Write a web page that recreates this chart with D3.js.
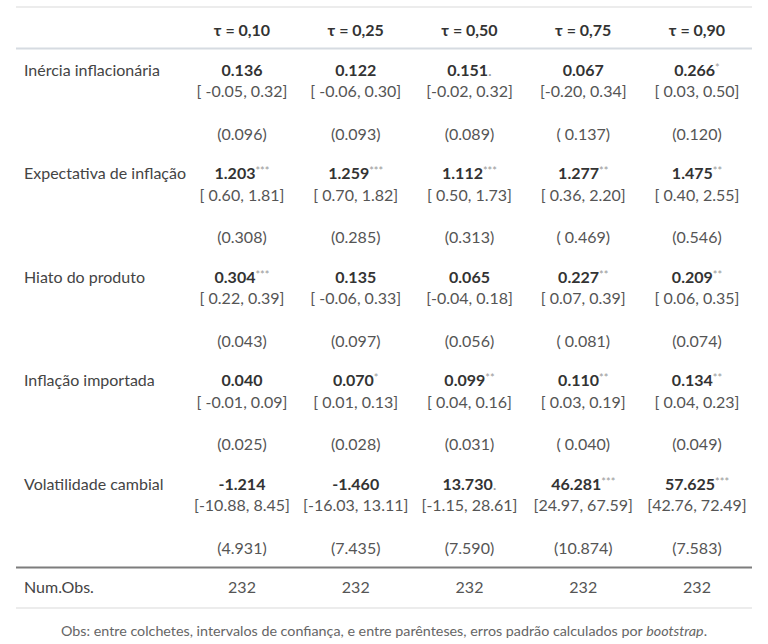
<!DOCTYPE html>
<html>
<head>
<meta charset="utf-8">
<script src="https://cdn.jsdelivr.net/npm/d3@7"></script>
<style>
  body { margin: 0; background: #fff; }
  svg { font-family: Lato, "Open Sans", sans-serif; }
</style>
</head>
<body>
<svg width="768" height="644"></svg>
<script>
// tau columns
var taus = ["τ = 0,10", "τ = 0,25", "τ = 0,50", "τ = 0,75", "τ = 0,90"];
var variables = ["Inércia inflacionária", "Expectativa de inflação", "Hiato do produto",
                 "Inflação importada", "Volatilidade cambial"];

// coefficients (one list per variable, one value per tau)
var coefs = [
    ["0.136", "0.122", "0.151", "0.067", "0.266"],
    ["1.203", "1.259", "1.112", "1.277", "1.475"],
    ["0.304", "0.135", "0.065", "0.227", "0.209"],
    ["0.040", "0.070", "0.099", "0.110", "0.134"],
    ["-1.214", "-1.460", "13.730", "46.281", "57.625"]
];
var stars = [
    ["", "", ".", "", "*"],
    ["***", "***", "***", "**", "**"],
    ["***", "", "", "**", "**"],
    ["", "*", "**", "**", "**"],
    ["", "", ".", "***", "***"]
];
var intervals = [
    ["[ -0.05, 0.32]", "[ -0.06, 0.30]", "[-0.02, 0.32]", "[-0.20, 0.34]", "[ 0.03, 0.50]"],
    ["[ 0.60, 1.81]", "[ 0.70, 1.82]", "[ 0.50, 1.73]", "[ 0.36, 2.20]", "[ 0.40, 2.55]"],
    ["[ 0.22, 0.39]", "[ -0.06, 0.33]", "[-0.04, 0.18]", "[ 0.07, 0.39]", "[ 0.06, 0.35]"],
    ["[ -0.01, 0.09]", "[ 0.01, 0.13]", "[ 0.04, 0.16]", "[ 0.03, 0.19]", "[ 0.04, 0.23]"],
    ["[-10.88, 8.45]", "[-16.03, 13.11]", "[-1.15, 28.61]", "[24.97, 67.59]", "[42.76, 72.49]"]
];
var std_errors = [
    ["(0.096)", "(0.093)", "(0.089)", "( 0.137)", "(0.120)"],
    ["(0.308)", "(0.285)", "(0.313)", "( 0.469)", "(0.546)"],
    ["(0.043)", "(0.097)", "(0.056)", "( 0.081)", "(0.074)"],
    ["(0.025)", "(0.028)", "(0.031)", "( 0.040)", "(0.049)"],
    ["(4.931)", "(7.435)", "(7.590)", "(10.874)", "(7.583)"]
];
var num_obs = [232, 232, 232, 232, 232];

var svg = d3.select("svg");
var left = 16, right = 752, label_x = 24;
var fs = "16px";

var xs = d3.scalePoint().domain(taus).range([242, 697]);
// y of the coefficient line of each variable
var ys = d3.scaleLinear().domain([0, variables.length - 1]).range([70, 484]);

function hline(y, color, w) {
    svg.append("line")
        .attr("x1", left).attr("x2", right)
        .attr("y1", y).attr("y2", y)
        .style("stroke", color)
        .style("stroke-width", w);
}

hline(7, "#e6e6e6", 1.5);
hline(48.5, "#d6dbe1", 2);
hline(567.5, "#7d7d7d", 2);
hline(608, "#e6e6e6", 1.5);

// header
svg.append("g").selectAll("text")
    .data(taus).enter()
    .append("text")
        .attr("x", function(d) { return xs(d); })
        .attr("y", 30)
        .attr("dy", "0.35em")
        .style("text-anchor", "middle")
        .style("font-weight", "bold")
        .style("font-size", fs)
        .style("fill", "#333")
        .text(function(d) { return d; });

// variable labels
svg.append("g").selectAll("text")
    .data(variables).enter()
    .append("text")
        .attr("x", label_x)
        .attr("y", function(d, i) { return ys(i); })
        .attr("dy", "0.35em")
        .style("font-size", fs)
        .style("fill", "#444")
        .text(function(d) { return d; });

var rows = svg.append("g").selectAll("g")
    .data(variables).enter()
    .append("g");

rows.each(function(v, i) {
    var g = d3.select(this);
    var y = ys(i);

    var coef = g.selectAll("text.coef")
        .data(taus).enter()
        .append("text")
            .attr("class", "coef")
            .attr("x", function(d) { return xs(d); })
            .attr("y", y)
            .attr("dy", "0.35em")
            .style("text-anchor", "middle")
            .style("font-size", fs)
            .style("fill", "#333");
    coef.append("tspan")
        .style("font-weight", "bold")
        .text(function(d, j) { return coefs[i][j]; });
    coef.append("tspan")
        .style("font-size", function(d, j) { return stars[i][j] == "." ? fs : "11px"; })
        .attr("baseline-shift", function(d, j) { return stars[i][j] == "." ? null : "4px"; })
        .style("fill", "#999")
        .text(function(d, j) { return stars[i][j]; });

    g.selectAll("text.ci")
        .data(taus).enter()
        .append("text")
            .attr("class", "ci")
            .attr("x", function(d) { return xs(d); })
            .attr("y", y + 21.5)
            .attr("dy", "0.35em")
            .style("text-anchor", "middle")
            .style("font-size", fs)
            .style("fill", "#555")
            .text(function(d, j) { return intervals[i][j]; });

    g.selectAll("text.se")
        .data(taus).enter()
        .append("text")
            .attr("class", "se")
            .attr("x", function(d) { return xs(d); })
            .attr("y", y + 64)
            .attr("dy", "0.35em")
            .style("text-anchor", "middle")
            .style("font-size", fs)
            .style("fill", "#555")
            .text(function(d, j) { return std_errors[i][j]; });
});

// Num.Obs.
svg.append("text")
    .attr("x", label_x)
    .attr("y", 587)
    .attr("dy", "0.35em")
    .style("font-size", fs)
    .style("fill", "#444")
    .text("Num.Obs.");
svg.append("g").selectAll("text")
    .data(num_obs).enter()
    .append("text")
        .attr("x", function(d, i) { return xs(taus[i]); })
        .attr("y", 587)
        .attr("dy", "0.35em")
        .style("text-anchor", "middle")
        .style("font-size", fs)
        .style("fill", "#555")
        .text(function(d) { return d; });

// footnote
var note = svg.append("text")
    .attr("x", 384)
    .attr("y", 631)
    .attr("dy", "0.35em")
    .style("text-anchor", "middle")
    .style("font-size", "14.3px")
    .style("fill", "#666");
note.append("tspan").text("Obs: entre colchetes, intervalos de confiança, e entre parênteses, erros padrão calculados por ");
note.append("tspan").style("font-style", "italic").text("bootstrap");
note.append("tspan").text(".");
</script>
</body>
</html>
